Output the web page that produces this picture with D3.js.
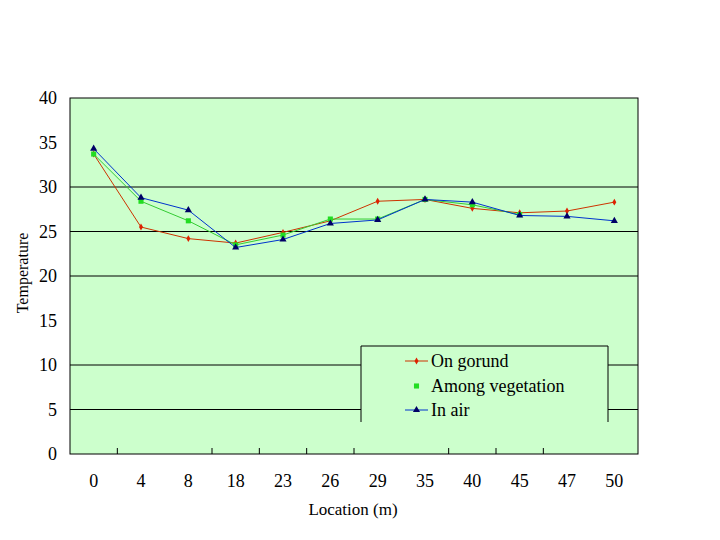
<!DOCTYPE html>
<html>
<head>
<meta charset="utf-8">
<script src="https://cdn.jsdelivr.net/npm/d3@7"></script>
<style>
body { margin: 0; background: #fff; }
svg { display: block; }
</style>
</head>
<body>
<svg id="chart" width="720" height="540"></svg>
<script>
const categories = ["0", "4", "8", "18", "23", "26", "29", "35", "40", "45", "47", "50"];
const onGround = [33.7, 25.5, 24.2, 23.7, 24.9, 26.2, 28.4, 28.6, 27.6, 27.1, 27.3, 28.3];
const amongVegetation = [33.7, 28.4, 26.2, 23.5, 24.6, 26.4, 26.4, 28.6, 28.0, 26.9];
const inAir = [34.3, 28.8, 27.4, 23.2, 24.1, 25.9, 26.3, 28.6, 28.3, 26.8, 26.7, 26.2];
const yTicks = [0, 5, 10, 15, 20, 25, 30, 35, 40];
const gridValues = [5, 10, 20, 25, 30];
const xTickBoundaries = [1, 3, 4, 5, 6, 8, 9, 10];
const seriesNames = ["On gorund", "Among vegetation", "In air"];

const FONT = "Liberation Serif, Times New Roman, serif";
const svg = d3.select("#chart");
const L = 70, R = 638, T = 98, B = 454;
const x = d3.scaleBand().domain(categories).range([L, R]);
const y = d3.scaleLinear().domain([0, 40]).range([B, T]);

// plot background
svg.append("rect").attr("x", L).attr("y", T).attr("width", R - L).attr("height", B - T)
  .attr("fill", "#ccffcc").attr("stroke", "#000").attr("stroke-width", 1);

// gridlines
svg.append("g").selectAll("line").data(gridValues).join("line")
  .attr("x1", L).attr("x2", R).attr("y1", d => y(d)).attr("y2", d => y(d))
  .attr("stroke", "#000").attr("stroke-width", 1);

// y labels
svg.append("g").selectAll("text").data(yTicks).join("text")
  .attr("font-family", FONT)
  .attr("x", 57).attr("y", d => y(d) + 6).attr("text-anchor", "end")
  .attr("font-size", 18).text(d => d);

// x ticks
svg.append("g").selectAll("line").data(xTickBoundaries).join("line")
  .attr("x1", d => x(categories[d])).attr("x2", d => x(categories[d]))
  .attr("y1", B - 6).attr("y2", B).attr("stroke", "#000").attr("stroke-width", 1);

// x labels
svg.append("g").selectAll("text").data(categories).join("text")
  .attr("font-family", FONT)
  .attr("x", d => x(d) + x.bandwidth() / 2).attr("y", 487).attr("text-anchor", "middle")
  .attr("font-size", 18).text(d => d);

// axis titles
svg.append("text").attr("font-family", FONT).attr("x", 353).attr("y", 515).attr("text-anchor", "middle")
  .attr("font-size", 17).text("Location (m)");
svg.append("text").attr("font-family", FONT).attr("transform", "translate(28,273) rotate(-90)").attr("text-anchor", "middle")
  .attr("font-size", 16).text("Temperature");

const cx = i => x(categories[i]) + x.bandwidth() / 2;
const line = d3.line().x((d, i) => cx(i)).y(d => y(d));

const series = [
  { name: seriesNames[0], values: onGround, line: "#cc3300", mark: "#dd2200", shape: d3.symbolDiamond, size: 14 },
  { name: seriesNames[1], values: amongVegetation, line: "#33cc33", mark: "#22dd22", shape: d3.symbolSquare, size: 26 },
  { name: seriesNames[2], values: inAir, line: "#0033cc", mark: "#000066", shape: d3.symbolTriangle, size: 22 }
];

series.forEach(s => {
  svg.append("path").datum(s.values).attr("d", line)
    .attr("fill", "none").attr("stroke", s.line).attr("stroke-width", 1);
  svg.append("g").selectAll("path").data(s.values).join("path")
    .attr("transform", (d, i) => `translate(${cx(i)},${y(d)})`)
    .attr("d", d3.symbol().type(s.shape).size(s.size)).attr("fill", s.mark);
});

// legend
const lg = svg.append("g");
lg.append("rect").attr("x", 361).attr("y", 346).attr("width", 247).attr("height", 76).attr("fill", "#ccffcc");
lg.append("path").attr("d", "M361,422V346H608V422").attr("fill", "none").attr("stroke", "#000").attr("stroke-width", 1);
const rowsY = [361, 386, 410];
series.forEach((s, i) => {
  if (i !== 1) {
    lg.append("line").attr("x1", 405).attr("x2", 428).attr("y1", rowsY[i]).attr("y2", rowsY[i])
      .attr("stroke", s.line).attr("stroke-width", 1);
  }
  lg.append("path").attr("transform", `translate(416.5,${rowsY[i]})`)
    .attr("d", d3.symbol().type(s.shape).size(s.size)).attr("fill", s.mark);
  lg.append("text").attr("font-family", FONT).attr("x", 431).attr("y", rowsY[i] + 6).attr("font-size", 18).text(s.name);
});
</script>
</body>
</html>
